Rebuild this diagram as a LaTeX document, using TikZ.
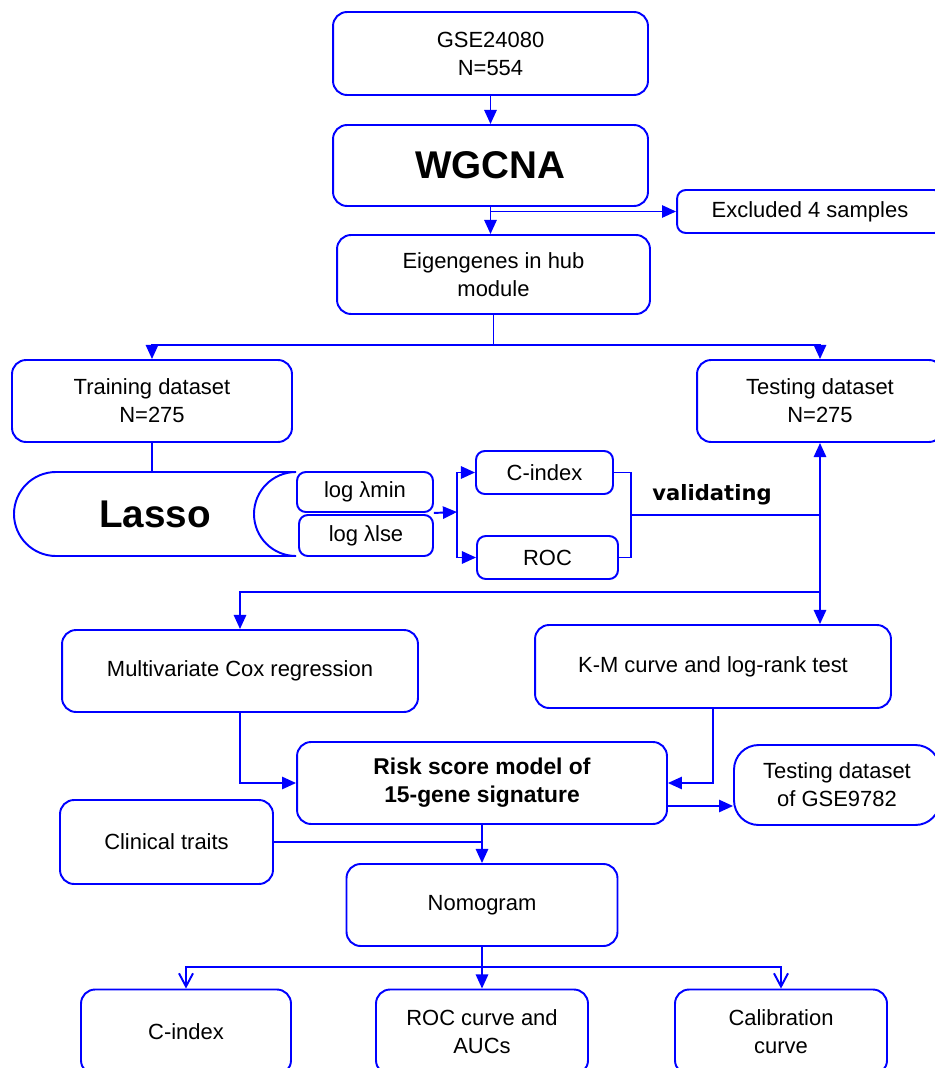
\documentclass[tikz,border=0pt]{standalone}
\usepackage{fontspec}
\setmainfont{Liberation Sans}
\newfontfamily\valfont{DejaVu Sans}
\usetikzlibrary{arrows.meta,positioning}

\begin{document}
\begin{tikzpicture}[x=0.02cm,y=-0.02cm]

  \tikzstyle{block} = [draw=blue, rectangle, rounded corners=8pt, line width=1.1pt, align=center, inner sep=0pt, font=\fontsize{12.5}{16}\selectfont]
  \tikzstyle{small} = [block, rounded corners=5pt]
  \tikzstyle{line} = [draw=blue, line width=1.1pt]
  \tikzstyle{arrow} = [line, -{Triangle[length=8pt,width=7pt]}]
  \tikzstyle{openarrow} = [line, -{Straight Barb[length=7.5pt,width=8pt]}]

  \clip (0,0) rectangle (935,1068);

  % top part
  \node[block, minimum width=6.3cm, minimum height=1.66cm] (gse) at (490.5,53.5) {GSE24080\\N=554};
  \node[block, minimum width=6.3cm, minimum height=1.62cm, font=\fontsize{22}{26}\selectfont\bfseries] (wgcna) at (490.5,165.5) {WGCNA};
  \node[small, minimum width=5.32cm, minimum height=0.86cm] (excl) at (810,211.5) {Excluded 4 samples};
  \node[block, minimum width=6.26cm, minimum height=1.58cm] (eigen) at (493.5,274.5) {Eigengenes in hub\\module};
  \node[block, minimum width=5.6cm, minimum height=1.64cm] (train) at (152,401) {Training dataset\\N=275};
  \node[block, minimum width=4.92cm, minimum height=1.64cm] (test) at (820,401) {Testing dataset\\N=275};

  % lasso
  \draw[line] (296,472) -- (56,472) arc[start angle=270, end angle=90, radius=42] -- (296,556) arc[start angle=90, end angle=270, radius=42] -- cycle;
  \coordinate (lassotop) at (152,472);
  \node[font=\fontsize{22}{26}\selectfont\bfseries] (lasso) at (155,514) {Lasso};
  \node[small, minimum width=2.72cm, minimum height=0.8cm] (lmin) at (365,492) {log λmin};
  \node[small, minimum width=2.68cm, minimum height=0.82cm] (lse) at (366,535.5) {log λlse};
  \node[small, minimum width=2.74cm, minimum height=0.86cm] (cidx) at (544.5,472.5) {C-index};
  \node[small, minimum width=2.82cm, minimum height=0.86cm] (roc) at (547.5,557.5) {ROC};
  \node[font=\valfont\fontsize{12}{14}\selectfont\bfseries] (valid) at (712,495) {validating};

  % middle part
  \node[block, minimum width=7.12cm, minimum height=1.64cm] (cox) at (240,671) {Multivariate Cox regression};
  \node[block, minimum width=7.12cm, minimum height=1.66cm] (km) at (713,666.5) {K-M curve and log-rank test};
  \node[block, minimum width=7.4cm, minimum height=1.64cm, font=\fontsize{13}{16}\selectfont\bfseries] (risk) at (482,783) {Risk score model of\\15-gene signature};
  \node[block, rounded corners=14pt, minimum width=4.12cm, minimum height=1.6cm] (g9782) at (837,785) {Testing dataset\\of GSE9782};
  \node[block, minimum width=4.26cm, minimum height=1.68cm] (clin) at (166.5,842) {Clinical traits};
  \node[block, minimum width=5.42cm, minimum height=1.64cm] (nomo) at (482,905) {Nomogram};

  % bottom row
  \node[block, minimum width=4.2cm, minimum height=1.7cm] (cidx2) at (186,1032) {C-index};
  \node[block, minimum width=4.24cm, minimum height=1.7cm] (roc2) at (482,1032) {ROC curve and\\AUCs};
  \node[block, minimum width=4.24cm, minimum height=1.7cm] (calib) at (781,1032) {Calibration\\curve};

  \coordinate (split1) at (493.5,345);
  \coordinate (join1) at (457,512);
  \coordinate (brk) at (631,515);
  \coordinate (vjoin) at (820,515);
  \coordinate (split2) at (820,592);
  \coordinate (split3) at (482,967);

  \draw[arrow] (gse) -- (wgcna);
  \draw[arrow] (wgcna.south) -- (wgcna.south |- eigen.north);
  \draw[arrow] (wgcna.south) |- (excl.west);
  \draw[line] (eigen.south) -- (split1);
  \draw[arrow] (split1) -| (train.north);
  \draw[arrow] (split1) -| (test.north);
  \draw[line] (train.south) -- (lassotop);
  \draw[arrow] (lmin.south east) -- (join1);
  \draw[arrow] (join1) |- (cidx.west);
  \draw[arrow] (join1) |- (roc.west);
  \draw[line] (cidx.east) -| (brk);
  \draw[line] (roc.east) -| (brk);
  \draw[line] (brk) -- (vjoin);
  \draw[arrow] (split2) -- (test.south);
  \draw[arrow] (split2) -- (split2 |- km.north);
  \draw[arrow] (split2) -| (cox.north);
  \draw[arrow] (cox.south) |- (risk.west);
  \draw[arrow] (km.south) |- (risk.east);
  \draw[arrow] (risk.east) ++(0,23) coordinate (rout) -- (rout -| g9782.west);
  \draw[arrow] (risk) -- (nomo);
  \draw[line] (clin.east) -- (clin.east -| risk.south);
  \draw[line] (nomo.south) -- (split3);
  \draw[arrow] (split3) -- (roc2.north);
  \draw[openarrow] (split3) -| (cidx2.north);
  \draw[openarrow] (split3) -| (calib.north);

\end{tikzpicture}
\end{document}
